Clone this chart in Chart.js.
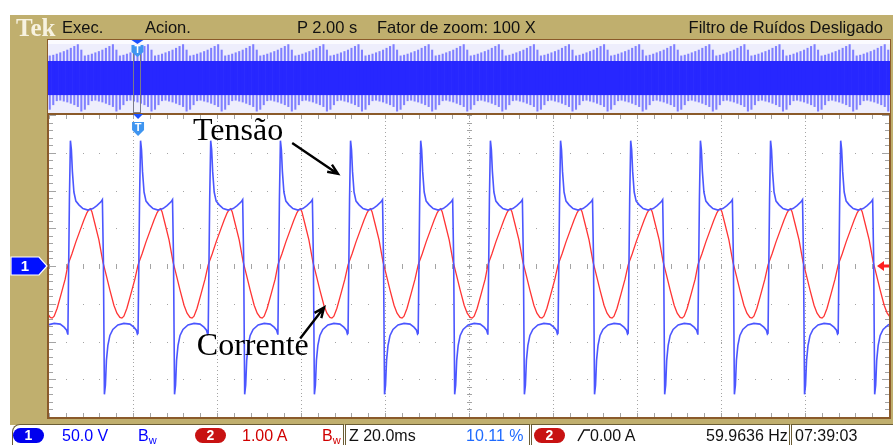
<!DOCTYPE html>
<html>
<head>
<meta charset="utf-8">
<script src="https://cdn.jsdelivr.net/npm/chart.js@4.4.1/dist/chart.umd.min.js"></script>
<style>
  body { margin: 0; width: 893px; height: 445px; overflow: hidden; background: #fff; position: relative;
         font-family: "Liberation Sans", Arial, sans-serif; }
  #frame { position: absolute; left: 10px; top: 15px; width: 883px; height: 410px; background: #c0af6e; }
  #ov { position: absolute; left: 47px; top: 39px; width: 842px; height: 73px; border: 1px solid #8a5a2a; z-index: 1; }
  #main { position: absolute; left: 0; top: 0; width: 893px; height: 445px; z-index: 2; }
  .t { position: absolute; font-size: 16.5px; line-height: 20px; white-space: nowrap; color: #111; z-index: 3; }
  .b { position: absolute; top: 424px; height: 24px; background: #fff; border: 1px solid #6b5d35; border-bottom: none; z-index: 1; }
  .pill { position: absolute; top: 428px; height: 15px; width: 31px; border-radius: 8px; color: #fff; z-index: 3;
          font: bold 14px "Liberation Sans", Arial, sans-serif; text-align: center; line-height: 15px; }
  .bt { top: 426px; font-size: 16px; }
  .sub { font-size: 11px; position: relative; top: 3px; }
</style>
</head>
<body>
<div id="frame"></div>

<!-- top status line -->
<div class="t" style="left:16px;top:14px;font:bold 25px 'Liberation Serif',serif;color:#f7f2e0;">Tek</div>
<div class="t" style="left:62px;top:17px;">Exec.</div>
<div class="t" style="left:145px;top:17px;">Acion.</div>
<div class="t" style="left:297px;top:17px;">P 2.00 s</div>
<div class="t" style="left:377px;top:17px;">Fator de zoom: 100 X</div>
<div class="t" style="right:10px;top:17px;">Filtro de Ruídos Desligado</div>

<div id="ov"><canvas id="ovCanvas"></canvas></div>
<div id="main"><canvas id="mainCanvas"></canvas></div>

<!-- bottom status line -->
<div class="b" style="left:12px;width:330px;border-top-left-radius:8px;"></div>
<div class="b" style="left:345px;width:183px;"></div>
<div class="b" style="left:531px;width:257px;"></div>
<div class="b" style="left:791px;width:110px;"></div>
<div class="pill" style="left:13px;background:#0000ee;">1</div>
<div class="t bt" style="left:62px;color:#0000ff;">50.0 V</div>
<div class="t bt" style="left:138px;color:#0000ff;">B<span class="sub">w</span></div>
<div class="pill" style="left:195px;background:#c81212;">2</div>
<div class="t bt" style="left:242px;color:#d00000;">1.00 A</div>
<div class="t bt" style="left:322px;color:#d00000;">B<span class="sub">w</span></div>
<div class="t bt" style="left:349px;">Z 20.0ms</div>
<div class="t bt" style="left:466px;color:#1f6bff;">10.11 %</div>
<div class="pill" style="left:534px;background:#c81212;">2</div>
<div class="t bt" style="left:577px;"><svg width="13" height="14" style="vertical-align:-1px"><polyline points="1,13 7,2 13,2" fill="none" stroke="#111" stroke-width="1.5"/></svg>0.00 A</div>
<div class="t bt" style="left:706px;">59.9636 Hz</div>
<div class="t bt" style="left:795px;">07:39:03</div>

<script>
// Tek scope capture: tensão (CH1, 50 V/div) e corrente (CH2, 1 A/div), 20 ms/div

// rising edges of the voltage, ms from left edge of the screen
const edgeTimes = [-12.1, 4.5, 21.2, 37.9, 54.5, 71.2, 87.9, 104.5, 121.2, 137.9, 154.5, 171.2, 187.9];

// one cycle of voltage (ms after the rising edge, volts)
const voltOffsets = [0, 0.36, 0.6, 0.83, 1.07, 1.43, 1.9, 2.62, 3.57, 4.76, 5.95, 6.9, 7.86, 8.21,
                     8.45, 8.69, 8.93, 9.17, 9.52, 10.0, 10.7, 11.9, 13.33, 14.76, 15.7, 16.3, 16.55];
const voltCycle = [-89, 88, 166, 154, 125, 98, 86, 81, 76, 74, 76, 80, 85, 88,
                   8, -170, -158, -125, -105, -92, -84, -78, -76, -77, -81, -85, -90];

// one cycle of current (ms after the rising edge, amperes)
const ampOffsets = [0, 0.95, 1.9, 2.86, 3.81, 4.52, 5.0, 5.36, 5.71, 6.43, 7.38, 8.33, 9.05, 10.0,
                    10.95, 11.67, 12.38, 12.86, 13.33, 14.05, 15.0, 15.95];
const ampCycle = [0.03, 0.32, 0.64, 0.93, 1.22, 1.41, 1.49, 1.52, 1.44, 1.12, 0.69, 0.11, -0.21, -0.64,
                  -1.04, -1.25, -1.36, -1.38, -1.33, -1.12, -0.74, -0.35];

// graticule
const xGridMs = [20, 40, 60, 80, 100, 120, 140, 160, 180];
const yGridVolts = [-150, -100, -50, 0, 50, 100, 150];
const xMinorMs = 4;
const yMinorVolts = 10;
const triggerMs = 21.2;

// annotations (ms, volts)
const labelTensao = { text: 'Tensão', x: 34.3, y: 167 };
const labelCorrente = { text: 'Corrente', x: 35.2, y: -118 };
const arrowTensao = [[57.9, 163], [68.8, 122]];
const arrowCorrente = [[59.8, -96], [65.5, -55]];

// record overview: spike envelope per group of lines (volts)
const ovGroups = 24;
const ovTopPattern = [118, 122, 128, 135, 142, 150, 160, 170, 180, 150];
const ovBottomPattern = [-175, -150, -128, -125, -130, -135, -142, -150, -160, -185];
const ovBand = [-95, 88];
const ovTriggerIndex = 25;

// --- build series ---
const voltData = [];
const ampData = [];
edgeTimes.forEach(t0 => {
  voltOffsets.forEach((dt, i) => voltData.push({ x: t0 + dt, y: voltCycle[i] }));
  ampOffsets.forEach((dt, i) => ampData.push({ x: t0 + dt, y: ampCycle[i] }));
});

function drawArrow(ctx, x1, y1, x2, y2) {
  const a = Math.atan2(y2 - y1, x2 - x1);
  ctx.beginPath();
  ctx.moveTo(x1, y1);
  ctx.lineTo(x2, y2);
  ctx.moveTo(x2 - 11 * Math.cos(a - 0.4), y2 - 11 * Math.sin(a - 0.4));
  ctx.lineTo(x2, y2);
  ctx.lineTo(x2 - 11 * Math.cos(a + 0.4), y2 - 11 * Math.sin(a + 0.4));
  ctx.stroke();
}

const screenPlugin = {
  id: 'screen',
  beforeDraw(chart) {
    const { ctx, chartArea: a } = chart;
    ctx.save();
    ctx.fillStyle = '#ffffff';
    ctx.fillRect(a.left, a.top, a.right - a.left, a.bottom - a.top);
    ctx.restore();
  },
  beforeDatasetsDraw(chart) {
    const { ctx, chartArea: a, scales } = chart;
    const xs = scales.x, ys = scales.y;
    ctx.save();
    ctx.fillStyle = '#a4a4a4';
    const xStepPx = xs.getPixelForValue(xMinorMs) - xs.getPixelForValue(0);
    const yStepPx = ys.getPixelForValue(0) - ys.getPixelForValue(yMinorVolts);
    // vertical division lines: fine dots
    xGridMs.forEach(t => {
      const px = Math.round(xs.getPixelForValue(t));
      for (let py = a.top + 2; py < a.bottom; py += yStepPx / 2) ctx.fillRect(px, Math.round(py), 1, 1);
    });
    // horizontal division lines: dots at minor steps
    yGridVolts.forEach(v => {
      const py = Math.round(ys.getPixelForValue(v));
      for (let t = 0; t <= 200; t += xMinorMs) ctx.fillRect(Math.round(xs.getPixelForValue(t)), py, 1, 1);
    });
    // centre cross ticks
    const cx = Math.round(xs.getPixelForValue(100));
    const cy = Math.round(ys.getPixelForValue(0));
    for (let t = 0; t <= 200; t += xMinorMs) ctx.fillRect(Math.round(xs.getPixelForValue(t)), cy - 2, 1, 5);
    for (let v = -200; v <= 200; v += yMinorVolts) ctx.fillRect(cx - 2, Math.round(ys.getPixelForValue(v)), 5, 1);
    // border ticks
    for (let t = 0; t <= 200; t += xMinorMs) {
      const px = Math.round(xs.getPixelForValue(t));
      ctx.fillRect(px, a.top, 1, 4);
      ctx.fillRect(px, a.bottom - 4, 1, 4);
    }
    for (let v = -200; v <= 200; v += yMinorVolts) {
      const py = Math.round(ys.getPixelForValue(v));
      const len = v % 50 === 0 ? 7 : 4;
      ctx.fillRect(a.left, py, len, 1);
      ctx.fillRect(a.right - len, py, len, 1);
    }
    ctx.restore();
  },
  afterDatasetsDraw(chart) {
    const { ctx, chartArea: a, scales } = chart;
    const xs = scales.x, ys = scales.y;
    ctx.save();
    // graticule border
    ctx.strokeStyle = '#8a5a2a';
    ctx.lineWidth = 2;
    ctx.strokeRect(a.left - 1, a.top - 1, a.right - a.left + 2, a.bottom - a.top + 2);

    // channel 1 ground marker
    const gy = ys.getPixelForValue(0);
    const l = a.left;
    ctx.beginPath();
    ctx.moveTo(l - 38, gy - 9); ctx.lineTo(l - 10, gy - 9); ctx.lineTo(l - 2, gy);
    ctx.lineTo(l - 10, gy + 9); ctx.lineTo(l - 38, gy + 9); ctx.closePath();
    ctx.fillStyle = '#0010ff'; ctx.fill();
    ctx.strokeStyle = '#ffffff'; ctx.lineWidth = 1.2; ctx.stroke();
    ctx.fillStyle = '#ffffff';
    ctx.font = 'bold 15px "Liberation Sans", Arial';
    ctx.textAlign = 'center'; ctx.textBaseline = 'middle';
    ctx.fillText('1', l - 24, gy + 1);

    // channel 2 ground marker (right)
    const r = a.right;
    ctx.fillStyle = '#ff2020';
    ctx.beginPath();
    ctx.moveTo(r - 12, gy); ctx.lineTo(r - 5, gy - 5); ctx.lineTo(r - 5, gy + 5); ctx.closePath(); ctx.fill();
    ctx.fillRect(r - 6, gy - 1.5, 6, 3);

    // trigger marker
    const tx = xs.getPixelForValue(triggerMs);
    ctx.fillStyle = '#1a50ff';
    ctx.beginPath();
    ctx.moveTo(tx - 5, a.top - 1); ctx.lineTo(tx + 5, a.top - 1); ctx.lineTo(tx, a.top + 4); ctx.closePath(); ctx.fill();
    ctx.fillStyle = '#3f95f0';
    ctx.beginPath();
    ctx.moveTo(tx - 6, a.top + 7); ctx.lineTo(tx + 6, a.top + 7); ctx.lineTo(tx + 6, a.top + 15);
    ctx.lineTo(tx, a.top + 21); ctx.lineTo(tx - 6, a.top + 15); ctx.closePath(); ctx.fill();
    ctx.fillStyle = '#ffffff';
    ctx.font = 'bold 11px "Liberation Sans", Arial';
    ctx.fillText('T', tx, a.top + 13);

    // annotations
    ctx.fillStyle = '#000000';
    ctx.font = '32px "Liberation Serif", "Times New Roman", serif';
    ctx.textAlign = 'left'; ctx.textBaseline = 'alphabetic';
    [labelTensao, labelCorrente].forEach(lb => {
      ctx.fillText(lb.text, xs.getPixelForValue(lb.x), ys.getPixelForValue(lb.y));
    });
    ctx.strokeStyle = '#000000';
    ctx.lineWidth = 2.4;
    [arrowTensao, arrowCorrente].forEach(([p, q]) => {
      drawArrow(ctx, xs.getPixelForValue(p[0]), ys.getPixelForValue(p[1]),
                xs.getPixelForValue(q[0]), ys.getPixelForValue(q[1]));
    });
    ctx.restore();
  }
};

new Chart(document.getElementById('mainCanvas'), {
  type: 'line',
  data: {
    datasets: [
      { label: 'Tensão', data: voltData, yAxisID: 'y', borderColor: '#4b56ff', borderWidth: 1.6,
        pointRadius: 0, tension: 0, order: 0 },
      { label: 'Corrente', data: ampData, yAxisID: 'y2', borderColor: '#ff3434', borderWidth: 1.3,
        pointRadius: 0, tension: 0, order: 1 }
    ]
  },
  options: {
    responsive: true,
    maintainAspectRatio: false,
    animation: false,
    events: [],
    layout: { padding: { left: 49, right: 4, top: 115, bottom: 28 } },
    plugins: { legend: { display: false }, tooltip: { enabled: false } },
    scales: {
      x: { type: 'linear', min: 0, max: 200, display: false },
      y: { min: -200, max: 200, display: false },
      y2: { min: -4, max: 4, display: false }
    }
  },
  plugins: [screenPlugin]
});

// --- record overview strip ---
const ovLabels = [];
const ovBandData = [];
const ovSpikeData = [];
for (let g = 0; g < ovGroups; g++) {
  ovTopPattern.forEach((top, i) => {
    ovLabels.push(g * ovTopPattern.length + i);
    ovBandData.push(ovBand);
    ovSpikeData.push([ovBottomPattern[i], top]);
  });
}

const overviewPlugin = {
  id: 'overview',
  beforeDraw(chart) {
    const { ctx, chartArea: a } = chart;
    ctx.save();
    ctx.fillStyle = '#eeeefc';
    ctx.fillRect(a.left, a.top, a.right - a.left, a.bottom - a.top);
    ctx.fillStyle = '#fbfbff';
    ctx.fillRect(a.left, a.top, a.right - a.left, 4);
    ctx.restore();
  },
  afterDraw(chart) {
    const { ctx, chartArea: a, scales } = chart;
    const tx = scales.x.getPixelForValue(ovTriggerIndex);
    ctx.save();
    ctx.strokeStyle = '#7a7a8a';
    ctx.lineWidth = 1;
    ctx.strokeRect(Math.round(tx) - 3.5, a.top + 13.5, 7, a.bottom - a.top - 14);
    ctx.fillStyle = '#1a50ff';
    ctx.beginPath();
    ctx.moveTo(tx - 6, a.top); ctx.lineTo(tx + 6, a.top); ctx.lineTo(tx, a.top + 4); ctx.closePath(); ctx.fill();
    ctx.fillStyle = '#3f95f0';
    ctx.beginPath();
    ctx.moveTo(tx - 6, a.top + 5); ctx.lineTo(tx + 6, a.top + 5); ctx.lineTo(tx + 6, a.top + 12);
    ctx.lineTo(tx, a.top + 17); ctx.lineTo(tx - 6, a.top + 12); ctx.closePath(); ctx.fill();
    ctx.fillStyle = '#ffffff';
    ctx.font = 'bold 10px "Liberation Sans", Arial';
    ctx.textAlign = 'center'; ctx.textBaseline = 'middle';
    ctx.fillText('T', tx, a.top + 10);
    ctx.restore();
  }
};

new Chart(document.getElementById('ovCanvas'), {
  type: 'bar',
  data: {
    labels: ovLabels,
    datasets: [
      { data: ovBandData, backgroundColor: '#2727ff', barPercentage: 1, categoryPercentage: 1, grouped: false, order: 1 },
      { data: ovSpikeData, backgroundColor: 'rgba(115,115,255,0.9)', barThickness: 1.4, grouped: false, order: 2 }
    ]
  },
  options: {
    responsive: true,
    maintainAspectRatio: false,
    animation: false,
    events: [],
    plugins: { legend: { display: false }, tooltip: { enabled: false } },
    scales: {
      x: { display: false },
      y: { min: -195, max: 205, display: false }
    }
  },
  plugins: [overviewPlugin]
});
</script>
</body>
</html>
